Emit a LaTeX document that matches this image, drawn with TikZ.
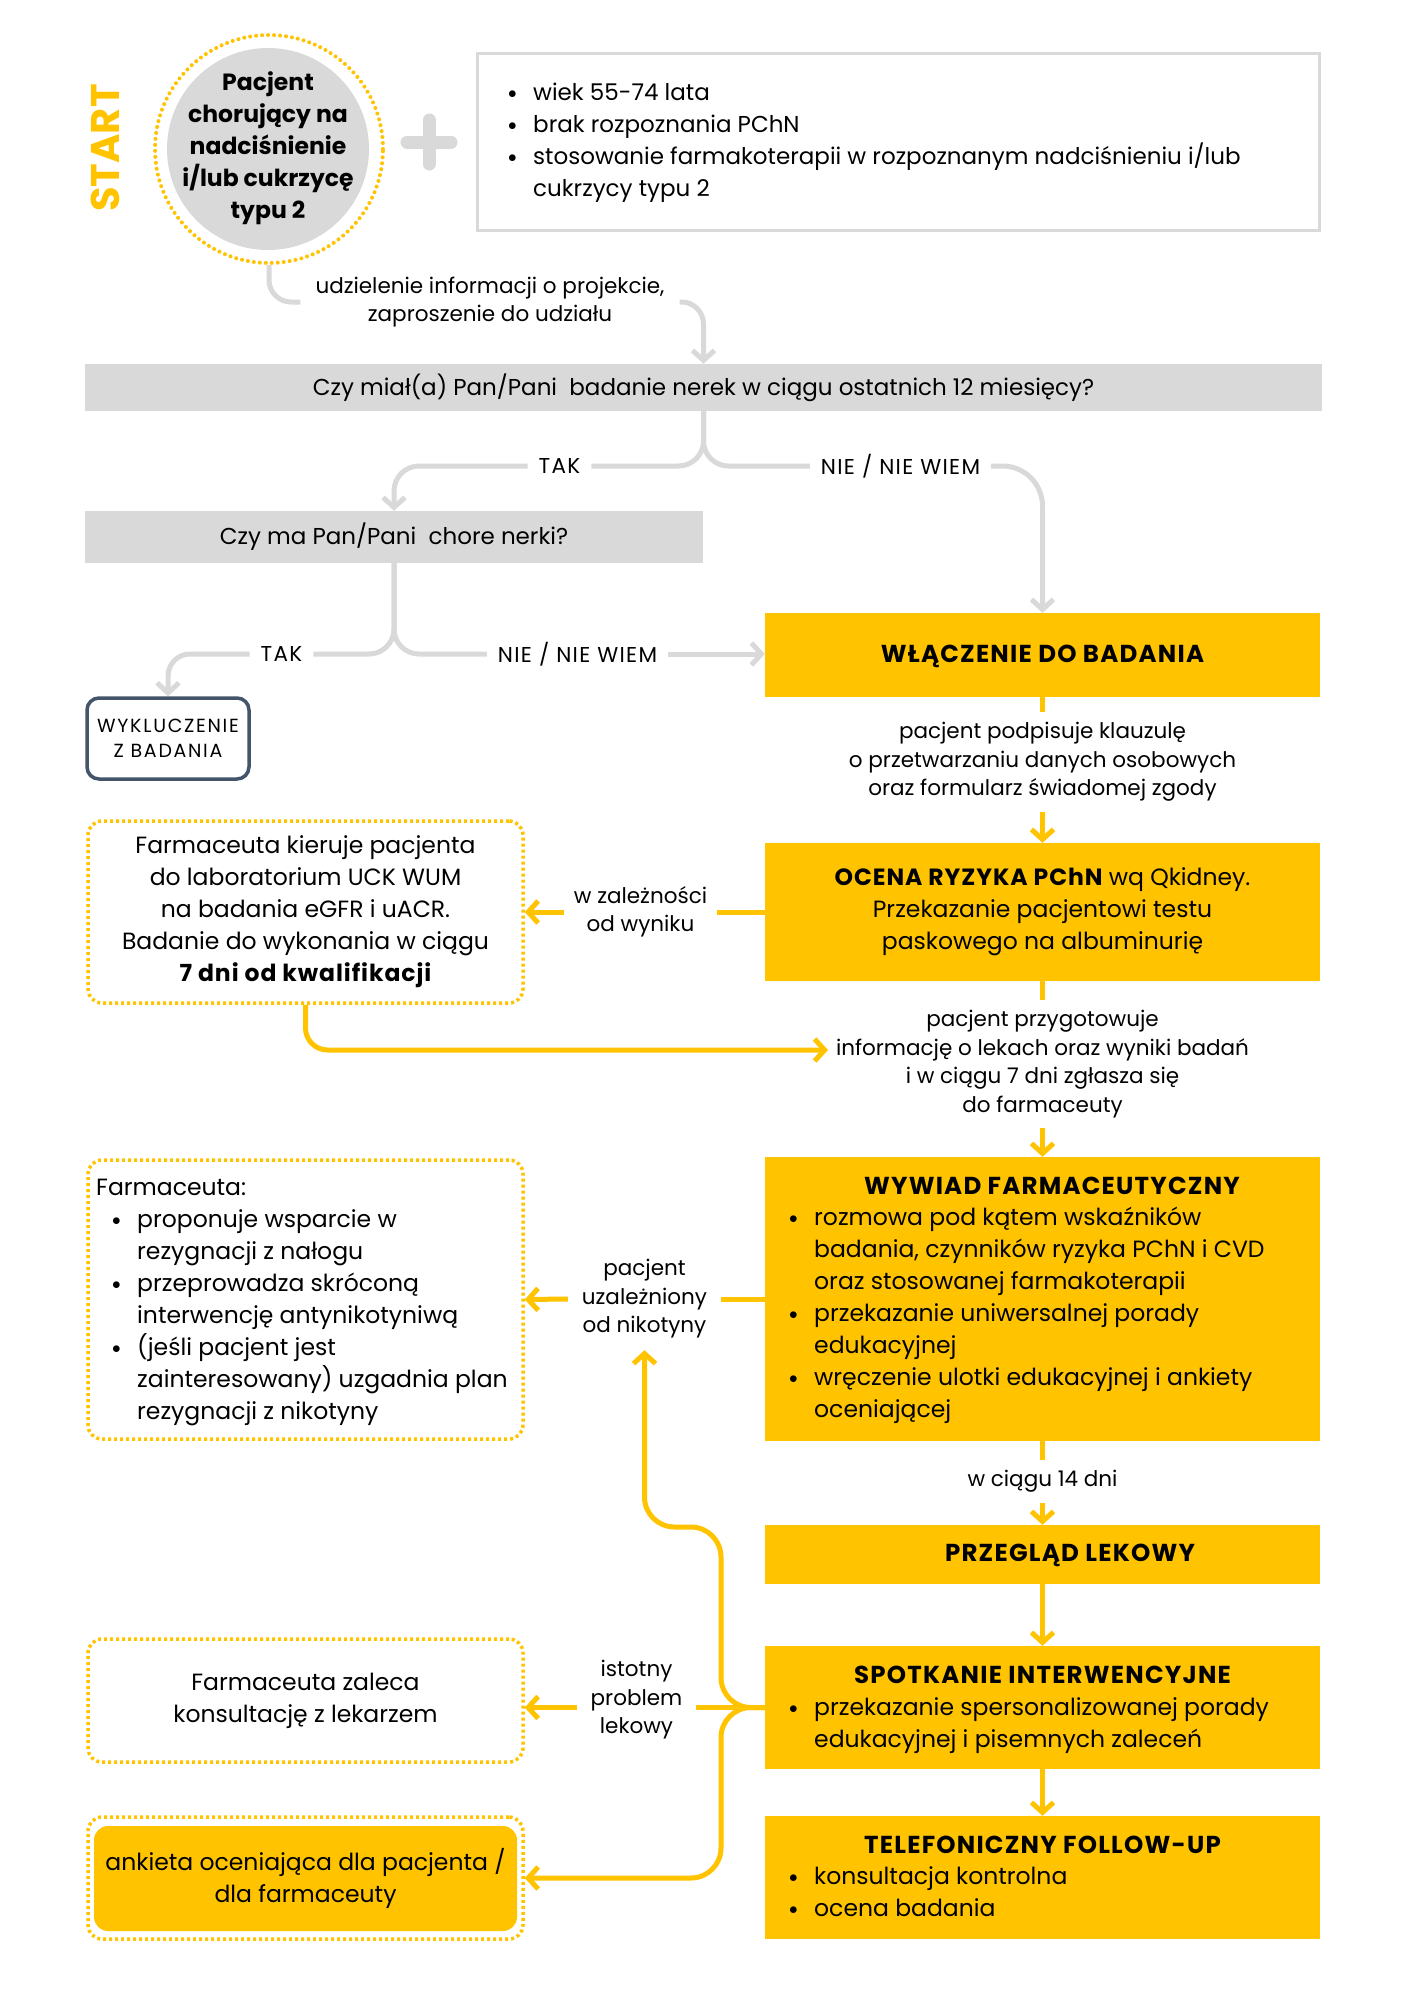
\documentclass[tikz,border=0pt]{standalone}
\usepackage{fontspec}
\setmainfont{Poppins}
\usetikzlibrary{arrows.meta}
\definecolor{ylw}{HTML}{FFC300}
\definecolor{gry}{HTML}{D9D9D9}
\definecolor{slate}{HTML}{44546A}
\newcommand\bodyf{\fontsize{23.5}{32}\selectfont}
\newcommand\barf{\fontsize{23}{32}\selectfont}
\newcommand\bodyb{\fontsize{23.5}{32}\selectfont\bfseries}
\newcommand\titf{\fontsize{24.5}{32}\selectfont\bfseries\addfontfeature{LetterSpace=5}}
\newcommand\bfx[1]{{\bfseries\addfontfeature{LetterSpace=4}#1}}
\newcommand\labf{\fontsize{21.5}{28.5}\selectfont}
\newcommand\glabf{\fontsize{21.5}{28.5}\selectfont\addfontfeature{LetterSpace=6}}
\newcommand\smallf{\fontsize{19}{25}\selectfont\addfontfeature{LetterSpace=9}}
\newcommand\startf{\fontsize{40}{40}\selectfont\bfseries}
\newcommand\bl{\hspace*{3pt}\raisebox{1.6pt}{\fontsize{19}{19}\selectfont$\bullet$}}
\newcommand\blist[1]{\begin{tabular}[t]{@{}p{28pt}@{}l@{}}#1\end{tabular}}
\tikzset{
  ybox/.style={rectangle, fill=ylw, minimum width=555, inner sep=0},
  dbox/.style={rectangle, draw=ylw, line width=3.5, dash pattern=on 3pt off 3pt, rounded corners=14, minimum width=435, inner sep=0},
  lbl/.style={font=\labf, align=center, inner xsep=15, inner ysep=2},
  glbl/.style={font=\glabf, inner xsep=11, inner ysep=0},
  gline/.style={draw=gry, line width=5},
  garrow/.style={gline, -{Straight Barb[length=10pt,width=22pt]}},
  yline/.style={draw=ylw, line width=5},
  yarrow/.style={yline, -{Straight Barb[length=10pt,width=22pt]}},
  listtxt/.style={anchor=base west, font=\bodyf, inner sep=0},
  tittxt/.style={anchor=base, font=\titf, inner sep=0},
}
\begin{document}
\begin{tikzpicture}[x=1pt,y=-1pt]
\useasboundingbox (0,0) rectangle (1414,2000);
\fill[white] (0,0) rectangle (1414,2000);

% START and patient circle
\node[rotate=90, font=\startf, text=ylw] (start) at (105,148) {START};
\node[circle, fill=gry, minimum size=202, inner sep=0] (pat) at (268,149) {};
\node[circle, draw=ylw, line width=4, line cap=round, dash pattern=on 0pt off 6pt, minimum size=228, inner sep=0] (dcirc) at (269,149) {};
\node[align=center, font=\bodyb] (pattxt) at (268,148) {Pacjent\\chorujący na\\nadciśnienie\\i/lub cukrzycę\\typu 2};
\draw[line width=13, gry, line cap=round] (429,120) -- (429,164) (407,142) -- (451,142);

% criteria box
\node[draw=gry, line width=3, minimum width=842, minimum height=177, inner sep=0] (info) at (898,141.5) {};
\node[listtxt, font=\barf] (infotxt) at (505,100) {\blist{\bl & wiek 55-74 lata\\ \bl & brak rozpoznania PChN\\ \bl & stosowanie farmakoterapii w rozpoznanym nadciśnieniu i/lub\\ & cukrzycy typu 2}};

% question bars
\node[fill=gry, minimum width=1237, minimum height=47, inner sep=0, font=\barf] (bar1) at (703.5,387.5) {Czy miał(a) Pan/Pani~ badanie nerek w ciągu ostatnich 12 miesięcy?};
\node[fill=gry, minimum width=618, minimum height=52, inner sep=0, font=\barf] (bar2) at (394,537) {Czy ma Pan/Pani~ chore nerki?};
\node[draw=slate, line width=3.5, rounded corners=12, minimum width=162, minimum height=81, align=center, font=\smallf, inner sep=0] (excl) at (168,738.5) {WYKLUCZENIE\\Z BADANIA};

% yellow boxes (right column)
\node[ybox, minimum height=84] (wl) at (1042.5,655) {};
\node[tittxt] (wltxt) at (1042.5,662) {WŁĄCZENIE DO BADANIA};
\node[ybox, minimum height=138, align=center, font=\bodyf] (oc) at (1042.5,912) {\bfx{OCENA RYZYKA PChN} wq Qkidney.\\Przekazanie pacjentowi testu\\paskowego na albuminurię};
\node[ybox, minimum height=284] (wy) at (1042.5,1299) {};
\node[tittxt] (wytit) at (1052,1194) {WYWIAD FARMACEUTYCZNY};
\node[listtxt] (wylist) at (786,1225) {\blist{\bl & rozmowa pod kątem wskaźników\\ & badania, czynników ryzyka PChN i CVD\\ & oraz stosowanej farmakoterapii\\ \bl & przekazanie uniwersalnej porady\\ & edukacyjnej\\ \bl & wręczenie ulotki edukacyjnej i ankiety\\ & oceniającej}};
\node[ybox, minimum height=59] (pl) at (1042.5,1554.5) {};
\node[tittxt] (pltxt) at (1070,1561) {PRZEGLĄD LEKOWY};
\node[ybox, minimum height=123] (sp) at (1042.5,1707.5) {};
\node[tittxt] (sptit) at (1042.5,1683) {SPOTKANIE INTERWENCYJNE};
\node[listtxt] (splist) at (786,1715) {\blist{\bl & przekazanie spersonalizowanej porady\\ & edukacyjnej i pisemnych zaleceń}};
\node[ybox, minimum height=123] (tf) at (1042.5,1877.5) {};
\node[tittxt] (tftit) at (1042.5,1853) {TELEFONICZNY FOLLOW-UP};
\node[listtxt] (tflist) at (786,1884) {\blist{\bl & konsultacja kontrolna\\ \bl & ocena badania}};

% dotted boxes (left column)
\node[dbox, minimum height=182, align=center, font=\bodyf] (lb1) at (305.5,912) {Farmaceuta kieruje pacjenta\\do laboratorium UCK WUM\\na badania eGFR i uACR.\\Badanie do wykonania w ciągu\\\bfx{7 dni od kwalifikacji}};
\node[dbox, minimum height=279] (lb2) at (305.5,1299.5) {};
\node[listtxt] (lb2tit) at (96,1195) {Farmaceuta:};
\node[listtxt] (lb2list) at (109,1227) {\blist{\bl & proponuje wsparcie w\\ & rezygnacji z nałogu\\ \bl & przeprowadza skróconą\\ & interwencję antynikotyniwą\\ \bl & (jeśli pacjent jest\\ & zainteresowany) uzgadnia plan\\ & rezygnacji z nikotyny}};
\node[dbox, minimum height=123, align=center, font=\bodyf] (lb3) at (305.5,1700.5) {Farmaceuta zaleca\\konsultację z lekarzem};
\node[dbox, minimum height=122] (lb4) at (305.5,1878) {};
\node[fill=ylw, rounded corners=14, minimum width=423, minimum height=105, align=center, font=\bodyf, inner sep=0] (lb4in) at (305.5,1878.5) {ankieta oceniająca dla pacjenta /\\dla farmaceuty};

% connector labels
\node[lbl] (tl) at (490,302) {udzielenie informacji o projekcie,\\zaproszenie do udziału};
\node[glbl] (tak1) at (559.5,466) {TAK};
\node[glbl] (nie1) at (900.5,466) {NIE / NIE WIEM};
\node[glbl] (tak2) at (281.5,654) {TAK};
\node[glbl] (nie2) at (577.5,654) {NIE / NIE WIEM};
\node[lbl, minimum height=100, inner sep=0] (t1) at (1042.5,762) {pacjent podpisuje klauzulę\\o przetwarzaniu danych osobowych\\oraz formularz świadomej zgody};
\node[lbl, minimum height=128, inner sep=0] (t2) at (1042.5,1064) {pacjent przygotowuje\\informację o lekach oraz wyniki badań\\i w ciągu 7 dni zgłasza się\\do farmaceuty};
\node[lbl, minimum height=43, inner sep=0] (t3) at (1042.5,1481.5) {w ciągu 14 dni};
\node[lbl, minimum width=153, inner sep=0] (labwz) at (640.5,912) {w zależności\\od wyniku};
\node[lbl, minimum width=153, minimum height=102, inner sep=0] (labnik) at (644.5,1299) {pacjent\\uzależniony\\od nikotyny};
\node[lbl, minimum width=119, inner sep=0] (labist) at (636.5,1700) {istotny\\problem\\lekowy};
\coordinate (t2in) at (828,1050);
\coordinate (spn) at (721,1707.5);

% grey connectors
\draw[gline, rounded corners=22] (dcirc.south) |- (tl.west);
\draw[garrow, rounded corners=22] (tl.east) -| (bar1.north);
\draw[gline, rounded corners=25] (bar1.south) |- (tak1.east);
\draw[garrow, rounded corners=25] (tak1.west) -| (bar2.north);
\draw[gline, rounded corners=25] (bar1.south) |- (nie1.west);
\draw[garrow, rounded corners=40] (nie1.east) -| (wl.north);
\draw[gline, rounded corners=25] (bar2.south) |- (tak2.east);
\draw[garrow, rounded corners=22] (tak2.west) -| (excl.north);
\draw[gline, rounded corners=25] (bar2.south) |- (nie2.west);
\draw[garrow] (nie2.east) -- (nie2.east -| wl.west);

% yellow connectors
\draw[yline] (wl.south) -- (t1.north);
\draw[yarrow] (t1.south) -- (oc.north);
\draw[yline] (oc.west) -- (labwz.east);
\draw[yarrow] (labwz.west) -- (lb1.east);
\draw[yline] (oc.south) -- (t2.north);
\draw[yarrow] (t2.south) -- (wy.north);
\draw[yarrow, rounded corners=22] (lb1.south) |- (t2in);
\draw[yline] (wy.west) -- (labnik.east);
\draw[yarrow] (labnik.west) -- (lb2.east);
\draw[yline] (wy.south) -- (t3.north);
\draw[yarrow] (t3.south) -- (pl.north);
\draw[yarrow] (pl.south) -- (sp.north);
\draw[yarrow] (sp.south) -- (tf.north);
\draw[yline] (sp.west) -- (sp.west -| labist.east);
\draw[yarrow] (labist.west |- sp.west) -- (lb3.east |- sp.west);
\draw[yarrow, rounded corners=30] (sp.west) -- (spn) -- (721,1527) -- (644.5,1527) -- (labnik.south);
\draw[yarrow, rounded corners=30] (sp.west) -- (spn) -- (721,1878) -- (lb4.east);
\end{tikzpicture}
\end{document}
